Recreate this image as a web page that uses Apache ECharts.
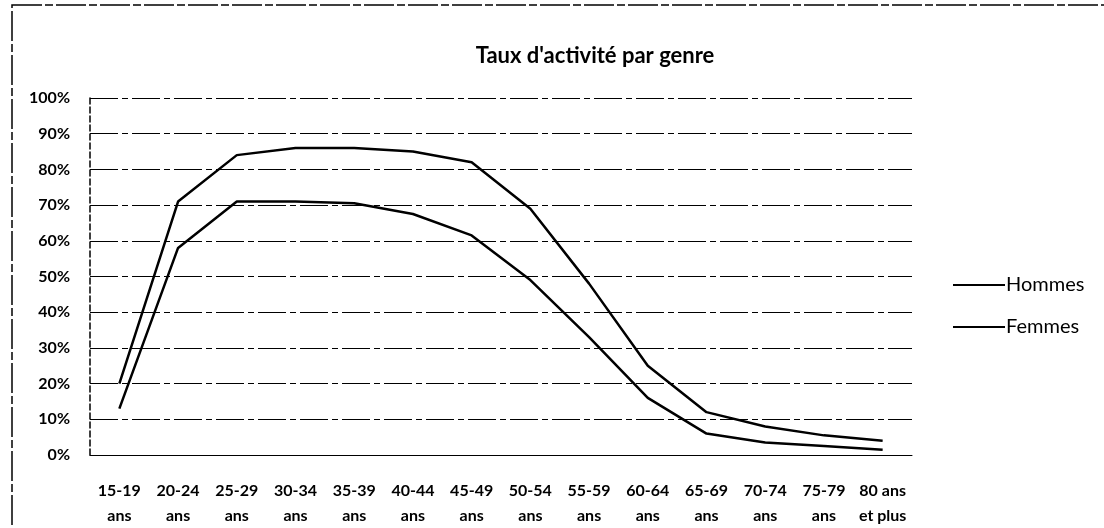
<!DOCTYPE html>
<html>
<head>
<meta charset="utf-8">
<script src="https://cdn.jsdelivr.net/npm/echarts@6/dist/echarts.min.js"></script>
<style>
  html, body { margin: 0; padding: 0; background: #fff; }
  #chart { width: 1104px; height: 528px; }
</style>
</head>
<body>
<div id="chart"></div>
<script>
// categories (age groups)
var ageGroups = ['15-19\nans', '20-24\nans', '25-29\nans', '30-34\nans', '35-39\nans', '40-44\nans', '45-49\nans',
  '50-54\nans', '55-59\nans', '60-64\nans', '65-69\nans', '70-74\nans', '75-79\nans', '80 ans\net plus'];
// taux d'activité (%)
var hommes = [20, 71, 84, 86, 86, 85, 82, 69, 48, 25, 12, 8, 5.5, 4];
var femmes = [13, 58, 71, 71, 70.5, 67.5, 61.5, 49, 33, 16, 6, 3.5, 2.5, 1.5];

var chart = echarts.init(document.getElementById('chart'));

var option = {
  backgroundColor: '#fff',
  animation: false,
  textStyle: { fontFamily: 'Lato', color: '#000' },
  title: {
    text: "Taux d'activité par genre",
    left: 590,
    top: 40,
    textAlign: 'center',
    textStyle: { fontFamily: 'Lato', fontSize: 22, fontWeight: 'bold', color: '#000' }
  },
  legend: {
    orient: 'vertical',
    left: 948,
    top: 270,
    itemGap: 22,
    itemWidth: 52,
    itemHeight: 2,
    icon: 'rect',
    textStyle: { fontFamily: 'Lato', fontSize: 20, color: '#000', padding: [0, 0, 0, -4] },
    data: ['Hommes', 'Femmes']
  },
  grid: {
    left: 90,
    right: 192,
    top: 98,
    bottom: 71,
    containLabel: false
  },
  xAxis: {
    type: 'category',
    boundaryGap: true,
    data: ageGroups,
    axisLine: { show: true, lineStyle: { color: '#000', width: 1 } },
    axisTick: { show: false },
    axisLabel: {
      color: '#000',
      fontFamily: 'Lato',
      fontSize: 16,
      fontWeight: 'bold',
      lineHeight: 25,
      margin: 23,
      interval: 0
    }
  },
  yAxis: {
    type: 'value',
    min: 0,
    max: 100,
    interval: 10,
    axisLine: { show: true, lineStyle: { color: '#000', width: 1.5, type: 'dashed' } },
    axisTick: { show: false },
    axisLabel: {
      formatter: '{value}%',
      color: '#000',
      fontFamily: 'Lato',
      fontSize: 16,
      fontWeight: 'bold',
      margin: 20
    },
    splitLine: { show: true, lineStyle: { color: '#000', width: 1.2, type: [28, 4, 6, 4] } }
  },
  series: [
    {
      name: 'Hommes',
      type: 'line',
      data: hommes,
      symbol: 'none',
      lineStyle: { color: '#000', width: 2.5 },
      itemStyle: { color: '#000' }
    },
    {
      name: 'Femmes',
      type: 'line',
      data: femmes,
      symbol: 'none',
      lineStyle: { color: '#000', width: 2.5 },
      itemStyle: { color: '#000' }
    }
  ],
  graphic: [
    {
      type: 'rect',
      shape: { x: 12, y: 5, width: 1200, height: 600 },
      style: { fill: 'none', stroke: '#000', lineWidth: 1.5, lineDash: [30, 3, 8, 3] },
      silent: true
    }
  ]
};

chart.setOption(option);
</script>
</body>
</html>
